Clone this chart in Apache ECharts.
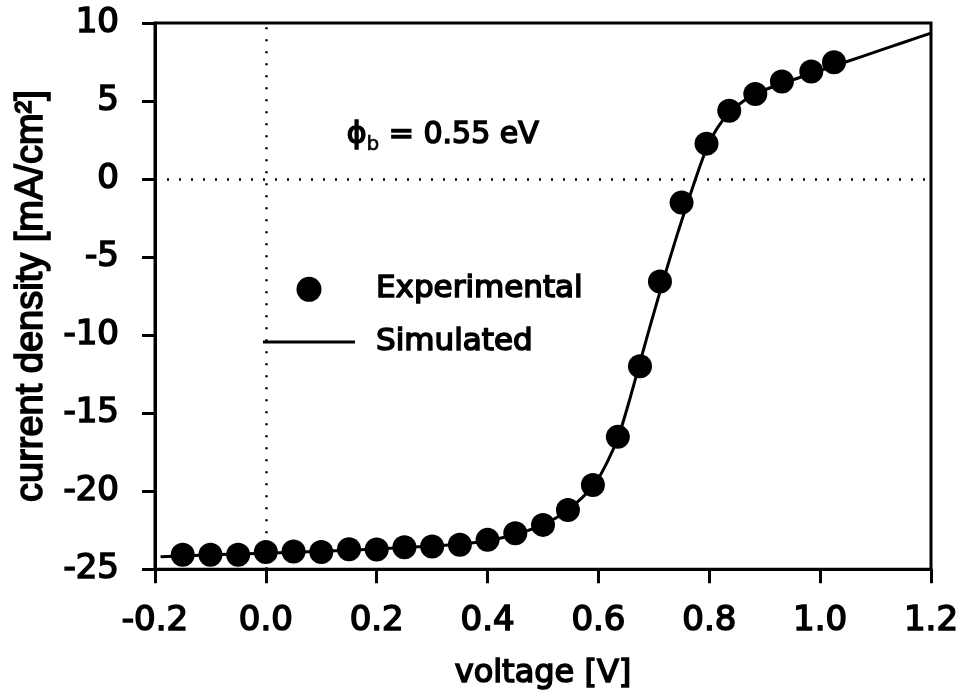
<!DOCTYPE html>
<html>
<head>
<meta charset="utf-8">
<script src="https://cdn.jsdelivr.net/npm/echarts@6/dist/echarts.min.js"></script>
<style>
html,body{margin:0;padding:0;background:#fff;}
#chart{width:966px;height:695px;}
</style>
</head>
<body>
<div id="chart"></div>
<script>
// Experimental points
var expX = [-0.15,-0.10,-0.05,0.00,0.05,0.10,0.15,0.20,0.25,0.30,0.35,0.40,0.45,0.50,0.545,0.59,0.635,0.675,0.711,0.75,0.795,0.836,0.883,0.931,0.984,1.025];
var expY = [-24.08,-24.08,-24.08,-23.9,-23.86,-23.9,-23.72,-23.74,-23.59,-23.54,-23.44,-23.12,-22.7,-22.16,-21.2,-19.6,-16.52,-11.99,-6.56,-1.51,2.27,4.38,5.45,6.25,6.89,7.49];
// Simulated curve
var simX = [-0.19,-0.1,0.0,0.1,0.2,0.3,0.35,0.4,0.45,0.5,0.545,0.592,0.615,0.636,0.655,0.673,0.695,0.717,0.74,0.761,0.78,0.798,0.815,0.835,0.86,0.88,0.91,0.95,1.0,1.05,1.1,1.15,1.2];
var simY = [-24.2,-24.08,-23.97,-23.85,-23.7,-23.52,-23.4,-23.18,-22.78,-22.15,-21.2,-19.6,-18.2,-16.5,-14.3,-12.0,-9.2,-6.5,-3.8,-1.5,0.5,2.2,3.3,4.2,4.95,5.4,5.85,6.35,6.95,7.55,8.15,8.75,9.35];
// Axis settings
var xMin = -0.2, xMax = 1.2, xStep = 0.2;
var yMin = -25, yMax = 10, yStep = 5;
var seriesNames = ['Experimental', 'Simulated'];
var xTitle = 'voltage [V]';
var yTitle = 'current density [mA/cm\u00B2]';
var annotation = '{p|\u03D5}{s|b}{p| = 0.55 eV}';

var expData = expX.map(function (x, i) { return [x, expY[i]]; });
var simData = simX.map(function (x, i) { return [x, simY[i]]; });

var chart = echarts.init(document.getElementById('chart'), null, {renderer: 'canvas'});
var font = 'DejaVu Sans';
var bw = 1.6;
var option = {
  animation: false,
  backgroundColor: '#fff',
  grid: {left: 155, right: 35, top: 23, bottom: 124, show: true, borderColor: '#000', borderWidth: 3, backgroundColor: 'transparent'},
  xAxis: {
    type: 'value', min: xMin, max: xMax, interval: xStep,
    name: xTitle, nameLocation: 'middle', nameGap: 88,
    nameTextStyle: {fontFamily: font, fontSize: 32, color: '#000', textBorderColor: '#000', textBorderWidth: bw},
    axisLine: {show: true, onZero: false, lineStyle: {color: '#000', width: 3}},
    axisTick: {show: true, inside: false, length: 14, lineStyle: {color: '#000', width: 3}},
    axisLabel: {fontFamily: font, fontSize: 34, color: '#000', margin: 35, textBorderColor: '#000', textBorderWidth: bw,
      formatter: function (v) { return Math.abs(v) < 1e-9 ? '0.0' : v.toFixed(1); }},
    splitLine: {show: false}
  },
  yAxis: {
    type: 'value', min: yMin, max: yMax, interval: yStep,
    name: yTitle, nameLocation: 'middle', nameGap: 77, nameRotate: 90,
    nameTextStyle: {fontFamily: 'Liberation Sans', fontSize: 38, color: '#000', textBorderColor: '#000', textBorderWidth: bw},
    axisLine: {show: true, onZero: false, lineStyle: {color: '#000', width: 3}},
    axisTick: {show: true, inside: false, length: 13, lineStyle: {color: '#000', width: 3}},
    axisLabel: {fontFamily: font, fontSize: 34, color: '#000', margin: 36, textBorderColor: '#000', textBorderWidth: bw},
    splitLine: {show: false}
  },
  legend: {
    orient: 'vertical', left: 258, top: 268, itemWidth: 92, itemHeight: 25, itemGap: 20,
    padding: 5,
    textStyle: {fontFamily: font, fontSize: 31, color: '#000', textBorderColor: '#000', textBorderWidth: bw, padding: [0, 0, 0, 16]},
    data: [
      {name: seriesNames[0], icon: 'circle', itemStyle: {color: '#000'}},
      {name: seriesNames[1], icon: 'path://M0,0H92V3H0Z', itemStyle: {color: '#000'}}
    ]
  },
  graphic: [{
    type: 'text', left: 346, top: 119, silent: true,
    style: {
      text: annotation, fill: '#000', stroke: '#000', lineWidth: bw,
      fontFamily: font, fontSize: 30,
      rich: {
        p: {fontFamily: font, fontSize: 30, fill: '#000', stroke: '#000', lineWidth: bw},
        s: {fontFamily: font, fontSize: 20, fill: '#000', stroke: '#000', lineWidth: 0.6, padding: [20, 0, 0, 0]}
      }
    }
  }],
  series: [
    {
      name: seriesNames[1], type: 'line', data: simData, symbol: 'none', smooth: 0.3,
      lineStyle: {color: '#000', width: 3}, itemStyle: {color: '#000'}, z: 3,
      markLine: {
        silent: true, symbol: 'none', label: {show: false},
        lineStyle: {color: '#000', width: 2.5, type: [2, 10]},
        data: [{xAxis: 0}, {yAxis: 0}]
      }
    },
    {
      name: seriesNames[0], type: 'scatter', data: expData, symbol: 'circle', symbolSize: 24,
      itemStyle: {color: '#000', opacity: 1}, z: 4
    }
  ]
};
chart.setOption(option);
</script>
</body>
</html>
